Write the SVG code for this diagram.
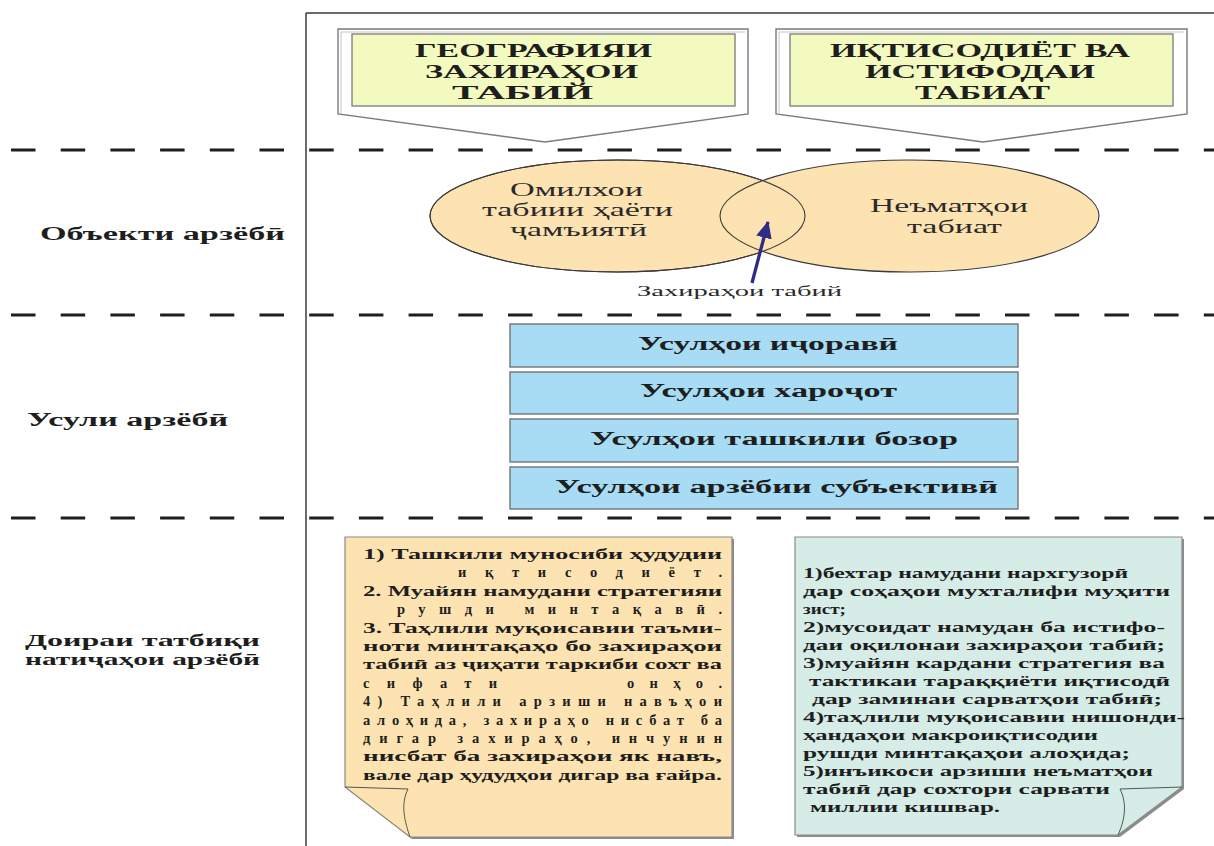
<svg xmlns="http://www.w3.org/2000/svg" width="1214" height="846" viewBox="0 0 1214 846">
<style>
.frame{stroke:#3a3a3a;stroke-width:1.5;fill:none}
.dash{stroke:#1e1e1e;stroke-width:3;stroke-dasharray:24.5 25.2;fill:none}
.callout{fill:#ffffff;stroke:#7a7a7a;stroke-width:1.4}
.callin{fill:none;stroke:#c4c4c4;stroke-width:1}
.ybox{fill:#F2FABF;stroke:#7a7a7a;stroke-width:1.3}
.title{font-family:"Liberation Serif","DejaVu Serif",serif;font-weight:bold;font-size:19px;fill:#1e1e1e}
.lab{font-family:"Liberation Serif","DejaVu Serif",serif;font-weight:bold;font-size:18px;fill:#1e1e1e}
.ell{fill:#FDE3B2;stroke:#3a3a3a;stroke-width:1.1}
.etext{font-family:"Liberation Serif","DejaVu Serif",serif;font-size:18px;fill:#2a2a2a}
.small{font-family:"Liberation Serif","DejaVu Serif",serif;font-size:15px;fill:#2a2a2a}
.bbox{fill:#A8DCF5;stroke:#6a6a6a;stroke-width:1.3}
.btext{font-family:"Liberation Serif","DejaVu Serif",serif;font-weight:bold;font-size:18px;fill:#1e1e1e}
.shadow{fill:#8c8c8c;stroke:none}
.doc1{fill:#FDE3B2;stroke:#8a8a8a;stroke-width:1.2}
.doc2{fill:#D5ECE7;stroke:#8a8a8a;stroke-width:1.2}
.flap{fill:none;stroke:#555;stroke-width:1}
.dtext{font-family:"Liberation Serif","DejaVu Serif",serif;font-weight:bold;font-size:14.5px;fill:#1e1e1e}
</style>
<defs>
<marker id="ah" markerUnits="userSpaceOnUse" markerWidth="18" markerHeight="16" refX="16" refY="8" orient="auto">
<path d="M0,0 L17,8 L0,16 Z" fill="#2F2C86"/>
</marker>
</defs>

<g id="frame">
<line class="frame" x1="306" y1="13" x2="1214" y2="13"/>
<line class="frame" x1="306" y1="13" x2="306" y2="846"/>
<line class="dash" x1="11" y1="150" x2="1214" y2="150"/>
<line class="dash" x1="11" y1="315" x2="1214" y2="315"/>
<line class="dash" x1="11" y1="518" x2="1214" y2="518"/>
</g>

<g id="row-labels">
<text class="lab" x="40" y="240" textLength="245" lengthAdjust="spacingAndGlyphs">Объекти арзёбӣ</text>
<text class="lab" x="27" y="426" textLength="201" lengthAdjust="spacingAndGlyphs">Усули арзёбӣ</text>
<text class="lab" x="25" y="646" textLength="235" lengthAdjust="spacingAndGlyphs" style="font-size:16px">Доираи  татбиқи</text>
<text class="lab" x="25" y="665" textLength="235" lengthAdjust="spacingAndGlyphs" style="font-size:16px">натиҷаҳои арзёбӣ</text>
</g>

<g id="callout-geography">
<polygon class="callout" points="338,29 748,29 748,114 545,142 338,114"/>
<polyline class="callin" points="341,113 341,32 745,32"/>
<rect class="ybox" x="352" y="34" width="383" height="72"/>
<text class="title" x="415" y="57" textLength="237" lengthAdjust="spacingAndGlyphs">ГЕОГРАФИЯИ</text>
<text class="title" x="425" y="78" textLength="213" lengthAdjust="spacingAndGlyphs">ЗАХИРАҲОИ</text>
<text class="title" x="452" y="99" textLength="141" lengthAdjust="spacingAndGlyphs">ТАБИЙ</text>
</g>

<g id="callout-economy">
<polygon class="callout" points="776,29 1187,29 1187,114 983,142 776,114"/>
<polyline class="callin" points="779,113 779,32 1184,32"/>
<rect class="ybox" x="790" y="34" width="383" height="72"/>
<text class="title" x="830" y="57" textLength="300" lengthAdjust="spacingAndGlyphs">ИҚТИСОДИЁТ ВА</text>
<text class="title" x="865" y="78" textLength="230" lengthAdjust="spacingAndGlyphs">ИСТИФОДАИ</text>
<text class="title" x="915" y="99" textLength="135" lengthAdjust="spacingAndGlyphs">ТАБИАТ</text>
</g>

<g id="venn">
<ellipse class="ell" cx="617.5" cy="216" rx="187.5" ry="56"/>
<ellipse class="ell" cx="909.5" cy="216" rx="189.5" ry="56"/>
<ellipse cx="617.5" cy="216" rx="187.5" ry="56" fill="none" stroke="#3a3a3a" stroke-width="1.1"/>
<text class="etext" x="510" y="196" textLength="133" lengthAdjust="spacingAndGlyphs">Омилхои</text>
<text class="etext" x="482" y="216" textLength="191" lengthAdjust="spacingAndGlyphs">табиии ҳаёти</text>
<text class="etext" x="510" y="236" textLength="137" lengthAdjust="spacingAndGlyphs">ҷамъиятӣ</text>
<text class="etext" x="870" y="212" textLength="158" lengthAdjust="spacingAndGlyphs">Неъматҳои</text>
<text class="etext" x="907" y="233" textLength="95" lengthAdjust="spacingAndGlyphs">табиат</text>
</g>

<g id="connectors">
<line x1="752" y1="283" x2="768" y2="222" stroke="#2F2C86" stroke-width="3.3" marker-end="url(#ah)"/>
</g>

<g id="label-reserves">
<text class="small" x="637" y="296" textLength="205" lengthAdjust="spacingAndGlyphs">Захираҳои табий</text>
</g>

<g id="method-1">
<rect class="bbox" x="510" y="324" width="508" height="43"/>
<text class="btext" x="638" y="350" textLength="260" lengthAdjust="spacingAndGlyphs">Усулҳои иҷоравӣ</text>
</g>
<g id="method-2">
<rect class="bbox" x="510" y="372" width="508" height="42"/>
<text class="btext" x="640" y="397" textLength="257" lengthAdjust="spacingAndGlyphs">Усулҳои хароҷот</text>
</g>
<g id="method-3">
<rect class="bbox" x="510" y="419" width="508" height="43"/>
<text class="btext" x="590" y="445" textLength="368" lengthAdjust="spacingAndGlyphs">Усулҳои ташкили бозор</text>
</g>
<g id="method-4">
<rect class="bbox" x="510" y="467" width="508" height="42"/>
<text class="btext" x="555" y="493" textLength="443" lengthAdjust="spacingAndGlyphs">Усулҳои арзёбии субъективӣ</text>
</g>

<g id="doc-regional">
<path class="shadow" d="M347,539 L734,539 L734,839 L412,839 L347,789 Z"/>
<path class="doc1" d="M345,537 L732,537 L732,837 L410,837 L345,787 Z"/>
<path class="flap" d="M345,787 L408,789 C400,805 405,822 410,837"/>
<text class="dtext" x="363" y="559" textLength="359" lengthAdjust="spacingAndGlyphs">1) Ташкили муносиби ҳудудии</text>
<text class="dtext" x="458" y="577.4" textLength="264" lengthAdjust="spacing">иқтисодиёт.</text>
<text class="dtext" x="363" y="595.8" textLength="359" lengthAdjust="spacingAndGlyphs">2. Муайян намудани стратегияи</text>
<text class="dtext" x="397" y="614.2" textLength="325" lengthAdjust="spacing">рушди  минтақавӣ.</text>
<text class="dtext" x="363" y="632.6" textLength="359" lengthAdjust="spacingAndGlyphs">3. Таҳлили муқоисавии таъми-</text>
<text class="dtext" x="363" y="651" textLength="359" lengthAdjust="spacingAndGlyphs">ноти минтақаҳо бо захираҳои</text>
<text class="dtext" x="363" y="669.4" textLength="359" lengthAdjust="spacingAndGlyphs">табиӣ аз ҷиҳати таркиби сохт ва</text>
<text class="dtext" x="363" y="687.8" textLength="134" lengthAdjust="spacing">сифати</text>
<text class="dtext" x="627" y="687.8" textLength="95" lengthAdjust="spacing">онҳо.</text>
<text class="dtext" x="363" y="706.2" textLength="359" lengthAdjust="spacing">4) Таҳлили арзиши навъҳои</text>
<text class="dtext" x="363" y="724.6" textLength="359" lengthAdjust="spacing">алоҳида, захираҳо нисбат ба</text>
<text class="dtext" x="363" y="743" textLength="359" lengthAdjust="spacing">дигар захираҳо, инчунин</text>
<text class="dtext" x="363" y="761.4" textLength="359" lengthAdjust="spacingAndGlyphs">нисбат ба захираҳои як навъ,</text>
<text class="dtext" x="363" y="779.8" textLength="359" lengthAdjust="spacingAndGlyphs">вале дар ҳудудҳои дигар ва ғайра.</text>
</g>

<g id="doc-national">
<path class="shadow" d="M797,539 L1184,539 L1184,789 L1120,837 L797,837 Z"/>
<path class="doc2" d="M795,537 L1182,537 L1182,787 L1118,835 L795,835 Z"/>
<path class="flap" d="M1182,787 L1120,789 C1128,805 1124,822 1118,835"/>
<text class="dtext" x="803" y="578" textLength="325" lengthAdjust="spacingAndGlyphs">1)бехтар намудани нархгузорӣ</text>
<text class="dtext" x="803" y="596" textLength="367" lengthAdjust="spacingAndGlyphs">дар соҳаҳои мухталифи муҳити</text>
<text class="dtext" x="803" y="614" textLength="43" lengthAdjust="spacingAndGlyphs">зист;</text>
<text class="dtext" x="803" y="632" textLength="362" lengthAdjust="spacingAndGlyphs">2)мусоидат намудан ба истифо-</text>
<text class="dtext" x="803" y="650" textLength="362" lengthAdjust="spacingAndGlyphs">даи оқилонаи захираҳои табиӣ;</text>
<text class="dtext" x="803" y="668" textLength="362" lengthAdjust="spacingAndGlyphs">3)муайян кардани стратегия ва</text>
<text class="dtext" x="809" y="686" textLength="361" lengthAdjust="spacingAndGlyphs">тактикаи тараққиёти иқтисодӣ</text>
<text class="dtext" x="812" y="704" textLength="350" lengthAdjust="spacingAndGlyphs">дар заминаи  сарватҳои табиӣ;</text>
<text class="dtext" x="803" y="722" textLength="382" lengthAdjust="spacingAndGlyphs">4)таҳлили муқоисавии нишонди-</text>
<text class="dtext" x="803" y="740" textLength="295" lengthAdjust="spacingAndGlyphs">ҳандаҳои  макроиқтисодии</text>
<text class="dtext" x="803" y="758" textLength="327" lengthAdjust="spacingAndGlyphs">рушди минтақаҳои алоҳида;</text>
<text class="dtext" x="803" y="776" textLength="350" lengthAdjust="spacingAndGlyphs">5)инъикоси арзиши неъматҳои</text>
<text class="dtext" x="803" y="794" textLength="307" lengthAdjust="spacingAndGlyphs">табиӣ дар сохтори сарвати</text>
<text class="dtext" x="810" y="812" textLength="190" lengthAdjust="spacingAndGlyphs">миллии кишвар.</text>
</g>
</svg>
